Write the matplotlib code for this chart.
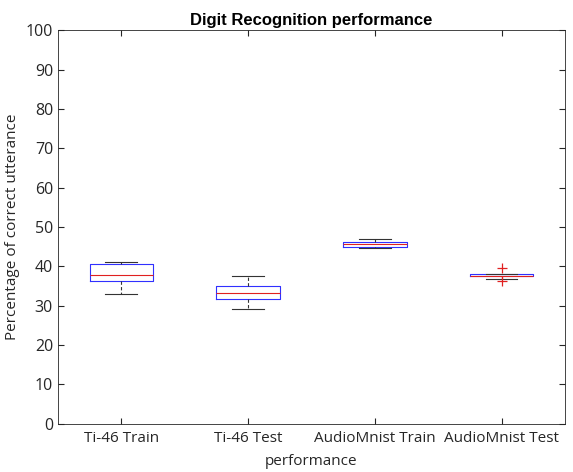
import matplotlib
matplotlib.use('Agg')
import matplotlib.pyplot as plt

labels = ['Ti-46 Train', 'Ti-46 Test', 'AudioMnist Train', 'AudioMnist Test']
whislo = [33.1, 29.2, 44.7, 36.9]
q1 = [36.2, 31.7, 45.0, 37.5]
med = [37.7, 33.3, 45.8, 37.6]
q3 = [40.6, 35.0, 46.3, 38.1]
whishi = [41.2, 37.6, 46.9, 38.1]
fliers = [[], [], [], [39.5, 36.2]]

plt.rcParams['font.family'] = ['Open Sans', 'DejaVu Sans']


def main():
    stats = []
    for i, lab in enumerate(labels):
        stats.append({'label': lab, 'whislo': whislo[i], 'q1': q1[i], 'med': med[i],
                      'q3': q3[i], 'whishi': whishi[i], 'fliers': fliers[i]})

    fig = plt.figure(figsize=(5.73, 4.72), dpi=100)
    ax = fig.add_axes([0.101, 0.102, 0.885, 0.834])
    ax.bxp(stats, positions=[1, 2, 3, 4], widths=0.5,
           boxprops=dict(color='#3030ff', linewidth=0.8),
           medianprops=dict(color='#e02020', linewidth=0.8),
           whiskerprops=dict(color='#333333', linewidth=0.8, linestyle=(0, (3, 2))),
           capprops=dict(color='#333333', linewidth=0.8),
           flierprops=dict(marker='+', markeredgecolor='#e02020', markersize=7,
                           markeredgewidth=0.9, linestyle='none'))

    ax.set_xlim(0.5, 4.5)
    ax.set_ylim(0, 100)
    ax.set_yticks(range(0, 101, 10))
    ax.tick_params(direction='in', top=True, right=True, labelsize=11.5, colors='#262626', length=4)
    ax.tick_params(axis='x', pad=5, labelsize=11)
    for s in ax.spines.values():
        s.set_color('#262626')
        s.set_linewidth(0.6)
    ax.set_title('Digit Recognition performance', fontsize=12, fontweight='bold',
                 family=['Liberation Sans', 'DejaVu Sans'], pad=4)
    ax.set_xlabel('performance', fontsize=11, color='#262626', labelpad=6)
    ax.set_ylabel('Percentage of correct utterance', fontsize=11, color='#262626')
    fig.savefig('out.png', dpi=100)


if __name__ == '__main__':
    main()
